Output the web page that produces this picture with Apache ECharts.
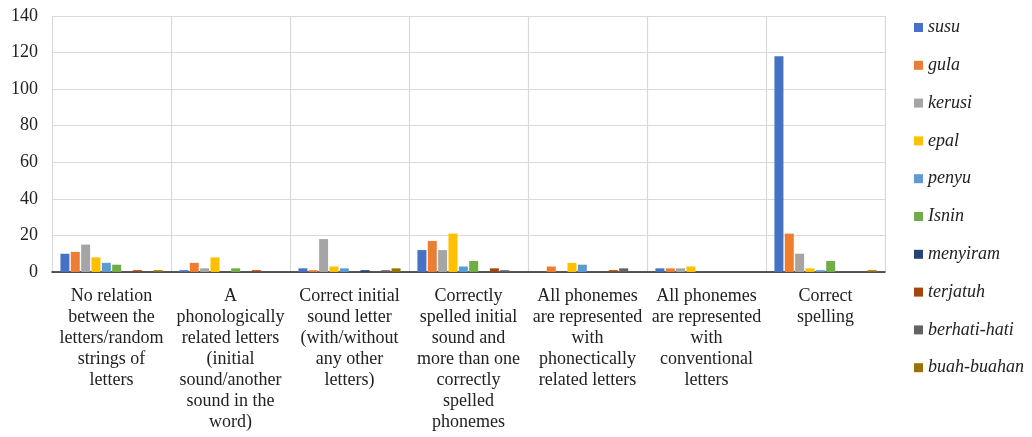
<!DOCTYPE html>
<html>
<head>
<meta charset="utf-8">
<script src="https://cdn.jsdelivr.net/npm/echarts@6/dist/echarts.min.js"></script>
<style>html,body{margin:0;padding:0;background:#fff;}#c{width:1032px;height:437px;}</style>
</head>
<body>
<div id="c"></div>
<script>
var categories = [
  "No relation\nbetween the\nletters/random\nstrings of\nletters",
  "A\nphonologically\nrelated letters\n(initial\nsound/another\nsound in the\nword)",
  "Correct initial\nsound letter\n(with/without\nany other\nletters)",
  "Correctly\nspelled initial\nsound and\nmore than one\ncorrectly\nspelled\nphonemes",
  "All phonemes\nare represented\nwith\nphonectically\nrelated letters",
  "All phonemes\nare represented\nwith\nconventional\nletters",
  "Correct\nspelling"
];
var seriesNames = ["susu","gula","kerusi","epal","penyu","Isnin","menyiram","terjatuh","berhati-hati","buah-buahan"];
var susu        = [10, 1, 2, 12, 0, 2, 118];
var gula        = [11, 5, 1, 17, 3, 2, 21];
var kerusi      = [15, 2, 18, 12, 0, 2, 10];
var epal        = [8, 8, 3, 21, 5, 3, 2];
var penyu       = [5, 0, 2, 3, 4, 0, 1];
var isnin       = [4, 2, 0, 6, 0, 0, 6];
var menyiram    = [0, 0, 1, 0, 0, 0, 0];
var terjatuh    = [1, 1, 0, 2, 1, 0, 0];
var berhatiHati = [0, 0, 1, 1, 2, 0, 0];
var buahBuahan  = [1, 0, 2, 0, 0, 0, 1];
var yTicks = [0, 20, 40, 60, 80, 100, 120, 140];

var values = [susu, gula, kerusi, epal, penyu, isnin, menyiram, terjatuh, berhatiHati, buahBuahan];
var colors = ["#4472C4","#ED7D31","#A5A5A5","#FFC000","#5B9BD5","#70AD47","#264478","#9E480E","#636363","#997300"];
var font = "Liberation Serif";

var chart = echarts.init(document.getElementById('c'));
chart.setOption({
  animation: false,
  color: colors,
  textStyle: { fontFamily: font },
  grid: { left: 52, right: 147, top: 16, bottom: 165, containLabel: false },
  legend: {
    orient: 'vertical',
    left: 909,
    top: 13,
    itemWidth: 9,
    itemHeight: 9,
    itemGap: 18.8,
    icon: 'rect',
    data: seriesNames,
    textStyle: { fontFamily: font, fontStyle: 'italic', fontSize: 18, color: '#222', lineHeight: 19 }
  },
  xAxis: {
    type: 'category',
    data: categories,
    axisTick: { show: false },
    axisLine: { lineStyle: { color: '#222', width: 1.5 } },
    splitLine: { show: true, lineStyle: { color: '#d9d9d9', width: 1.2 } },
    axisLabel: { interval: 0, fontFamily: font, fontSize: 18, color: '#222', lineHeight: 21, margin: 14, align: 'center' }
  },
  yAxis: {
    type: 'value',
    min: yTicks[0],
    max: yTicks[yTicks.length - 1],
    interval: yTicks[1] - yTicks[0],
    axisLine: { show: false },
    axisTick: { show: false },
    splitLine: { lineStyle: { color: '#d9d9d9', width: 1.2 } },
    axisLabel: { fontFamily: font, fontSize: 18, color: '#222', margin: 14 }
  },
  series: seriesNames.map(function (n, i) {
    return { name: n, type: 'bar', data: values[i], barWidth: 9, barGap: '15%' };
  })
});
</script>
</body>
</html>
